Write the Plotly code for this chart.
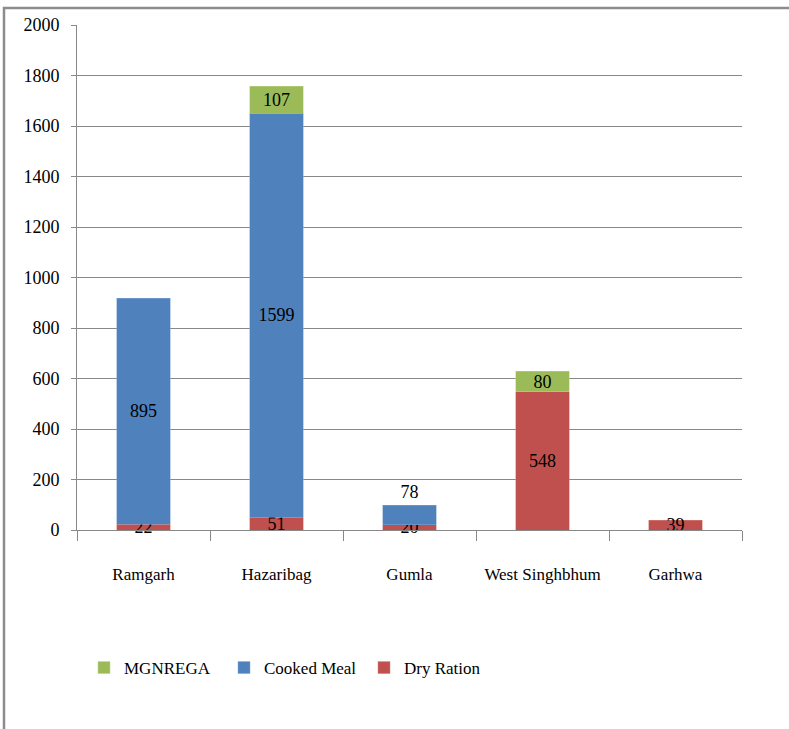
import plotly.graph_objects as go

districts = ["Ramgarh", "Hazaribag", "Gumla", "West Singhbhum", "Garhwa"]
dry_ration = [22, 51, 20, 548, 39]
cooked_meal = [895, 1599, 78, None, None]
mgnrega = [None, 107, None, 80, None]
y_ticks = [0, 200, 400, 600, 800, 1000, 1200, 1400, 1600, 1800, 2000]

FONT = "Liberation Serif, Times New Roman, Times, serif"
W, H = 789, 729
L, R, T, B = 77, 47, 25, 199
pw, ph = W - L - R, H - T - B


def px_to_paper_x(px):
    return (px - L) / pw


def px_to_paper_y(py):
    return (H - B - py) / ph


def labels(vals):
    return [str(v) if v is not None else "" for v in vals]


fig = go.Figure()
fig.add_trace(go.Bar(
    x=districts, y=dry_ration, name="Dry Ration",
    marker=dict(color="#C0504D", line=dict(color="#D9857F", width=0.5)),
    text=labels(dry_ration), textposition="inside", insidetextanchor="middle",
))
cooked_pos = ["outside" if (v is not None and v < 100) else "inside" for v in cooked_meal]
fig.add_trace(go.Bar(
    x=districts, y=cooked_meal, name="Cooked Meal",
    marker=dict(color="#4F81BD", line=dict(color="#86A9D6", width=0.5)),
    text=labels(cooked_meal), textposition=cooked_pos, insidetextanchor="middle",
))
fig.add_trace(go.Bar(
    x=districts, y=mgnrega, name="MGNREGA",
    marker=dict(color="#9BBB59", line=dict(color="#BFD68E", width=0.5)),
    text=labels(mgnrega), textposition="inside", insidetextanchor="middle",
))
fig.update_traces(
    textfont=dict(family=FONT, size=18, color="black"),
    insidetextfont=dict(family=FONT, size=18, color="black"),
    outsidetextfont=dict(family=FONT, size=18, color="black"),
    constraintext="none", cliponaxis=False, textangle=0,
)

fig.update_layout(
    width=W, height=H,
    margin=dict(l=L, r=R, t=T, b=B, pad=0),
    barmode="stack", bargap=0.6,
    paper_bgcolor="white", plot_bgcolor="white",
    font=dict(family=FONT, size=17, color="black"),
    showlegend=True,
    legend=dict(
        orientation="h", traceorder="reversed",
        x=px_to_paper_x(84), y=px_to_paper_y(668),
        xanchor="left", yanchor="middle",
        entrywidth=95, entrywidthmode="pixels",
        itemwidth=30,
        font=dict(family=FONT, size=17, color="black"),
        bgcolor="rgba(0,0,0,0)",
    ),
    xaxis=dict(
        showline=True, linecolor="#888888", linewidth=1,
        ticks="outside", tickson="boundaries", ticklen=10, tickcolor="#888888",
        ticklabelstandoff=29,
        tickfont=dict(family=FONT, size=17, color="black"),
        showgrid=False, fixedrange=True,
    ),
    yaxis=dict(
        range=[0, 2000], tickvals=y_ticks,
        showline=True, linecolor="#888888", linewidth=1,
        ticks="outside", ticklen=5, tickcolor="#888888",
        ticklabelstandoff=8,
        showgrid=True, gridcolor="#888888", gridwidth=1,
        zeroline=False,
        tickfont=dict(family=FONT, size=18, color="black"),
    ),
)

# outer frame of the chart area (extends beyond the picture on right/bottom)
fig.add_shape(
    type="rect", xref="paper", yref="paper",
    x0=px_to_paper_x(4), x1=px_to_paper_x(820),
    y0=px_to_paper_y(760), y1=px_to_paper_y(8),
    line=dict(color="#8C8C8C", width=2.5), fillcolor="rgba(0,0,0,0)",
    layer="below",
)

fig.write_html(
    "out.html",
    config={"displayModeBar": False},
    post_script="document.body.style.margin='0';",
)
